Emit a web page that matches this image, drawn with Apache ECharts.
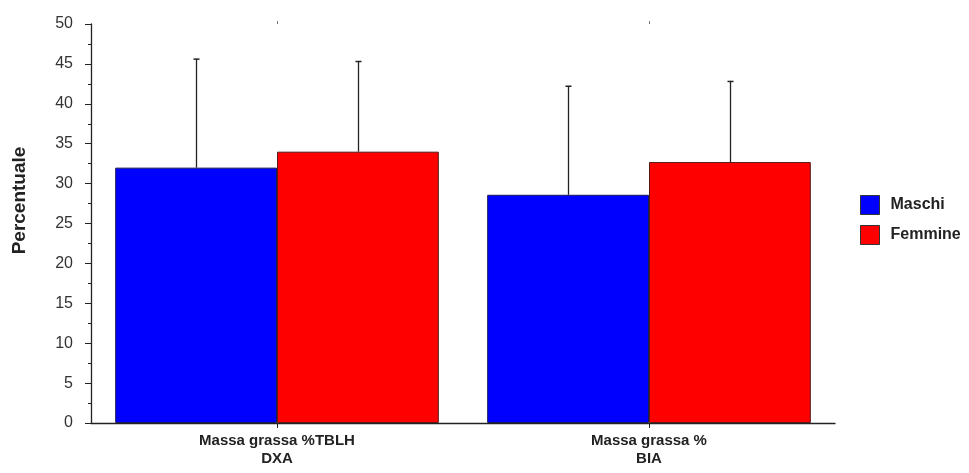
<!DOCTYPE html>
<html>
<head>
<meta charset="utf-8">
<script src="https://cdn.jsdelivr.net/npm/echarts@6/dist/echarts.min.js"></script>
<style>
html,body{margin:0;padding:0;background:#fff;}
#chart{width:969px;height:473px;}
</style>
</head>
<body>
<div id="chart"></div>
<script>
var categories = ['Massa grassa %TBLH\nDXA', 'Massa grassa %\nBIA'];
var seriesNames = ['Maschi', 'Femmine'];
var maschi = [32.0, 28.6];
var femmine = [34.0, 32.7];
var maschiSD = [13.6, 13.6];
var femmineSD = [11.3, 10.1];
var yTicks = [0, 5, 10, 15, 20, 25, 30, 35, 40, 45, 50];

var colors = ['#0000ff', '#ff0000'];
var catGap = 0.13;

function errorSeries(means, sds, sideIndex) {
  var data = means.map(function (m, i) { return [i, m, m + sds[i]]; });
  return {
    type: 'custom',
    silent: true,
    z: 5,
    data: data,
    renderItem: function (params, api) {
      var idx = api.value(0);
      var band = api.size([1, 0])[0];
      var barW = band * (1 - catGap) / 2;
      var off = (sideIndex === 0 ? -1 : 1) * barW / 2;
      var low = api.coord([idx, api.value(1)]);
      var high = api.coord([idx, api.value(2)]);
      var x = Math.round(low[0] + off) + 0.5;
      var capW = 3;
      return {
        type: 'group',
        children: [
          { type: 'line', shape: { x1: x, y1: low[1], x2: x, y2: high[1] }, style: { stroke: '#222', lineWidth: 1.3 } },
          { type: 'line', shape: { x1: x - capW, y1: high[1], x2: x + capW, y2: high[1] }, style: { stroke: '#222', lineWidth: 1.5 } }
        ]
      };
    }
  };
}

var chart = echarts.init(document.getElementById('chart'), null, { renderer: 'canvas' });
chart.setOption({
  animation: false,
  backgroundColor: '#fff',
  textStyle: { fontFamily: 'Liberation Sans, Arial, sans-serif' },
  grid: { left: 91, right: 134, top: 24, bottom: 50, containLabel: false },
  legend: {
    orient: 'vertical',
    left: 855,
    top: 190,
    itemWidth: 19,
    itemHeight: 19,
    itemGap: 10,
    icon: 'rect',
    data: seriesNames,
    textStyle: { fontFamily: 'Liberation Sans, Arial, sans-serif', fontWeight: 'bold', fontSize: 16, color: '#222', padding: [0, 0, 0, 6] },
    itemStyle: { borderColor: '#333', borderWidth: 1 }
  },
  xAxis: [{
    type: 'category',
    data: categories,
    axisLine: { lineStyle: { color: '#222', width: 1.3 } },
    axisTick: { show: true, alignWithLabel: true, length: 5, lineStyle: { color: '#222' } },
    axisLabel: { fontWeight: 'bold', fontSize: 15, color: '#222', lineHeight: 18, margin: 9, interval: 0 },
    splitLine: { show: false }
  }, {
    type: 'category',
    position: 'top',
    data: categories,
    axisLine: { show: false },
    axisTick: { show: true, alignWithLabel: true, length: 3, lineStyle: { color: '#777' } },
    axisLabel: { show: false },
    splitLine: { show: false }
  }],
  yAxis: {
    type: 'value',
    min: yTicks[0],
    max: yTicks[yTicks.length - 1],
    interval: 5,
    name: 'Percentuale',
    nameLocation: 'middle',
    nameGap: 62,
    nameTextStyle: { fontWeight: 'bold', fontSize: 19, color: '#222', padding: [0, 0, 0, 46] },
    axisLine: { show: true, lineStyle: { color: '#222', width: 1.3 } },
    axisTick: { show: true, length: 6, lineStyle: { color: '#222' } },
    minorTick: { show: true, splitNumber: 2, length: 3, lineStyle: { color: '#222' } },
    axisLabel: { fontSize: 16, color: '#333', margin: 18 },
    splitLine: { show: false }
  },
  series: [{
    name: seriesNames[0],
    type: 'bar',
    data: maschi,
    barGap: '0%',
    barCategoryGap: (catGap * 100) + '%',
    itemStyle: { color: colors[0], borderColor: '#1a1a55', borderWidth: 1 }
  }, {
    name: seriesNames[1],
    type: 'bar',
    data: femmine,
    barGap: '0%',
    barCategoryGap: (catGap * 100) + '%',
    itemStyle: { color: colors[1], borderColor: '#551a1a', borderWidth: 1 }
  },
  errorSeries(maschi, maschiSD, 0),
  errorSeries(femmine, femmineSD, 1)
  ]
});
</script>
</body>
</html>
